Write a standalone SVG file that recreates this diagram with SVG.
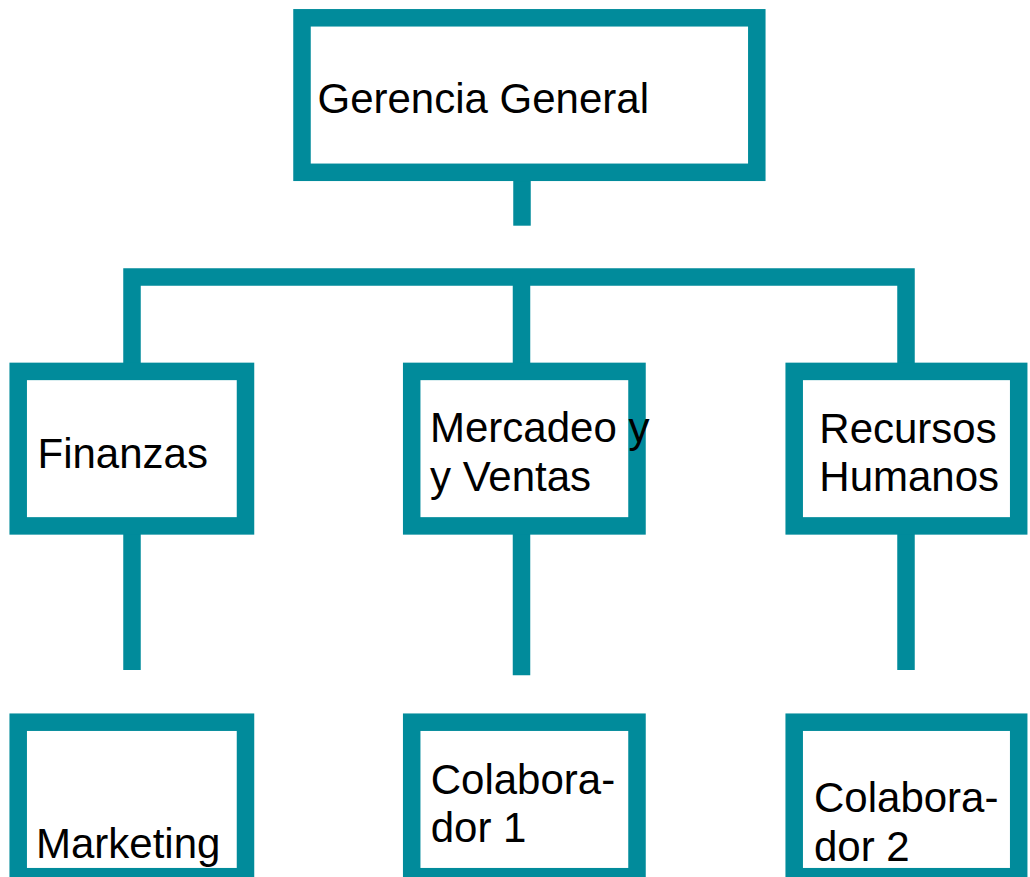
<svg xmlns="http://www.w3.org/2000/svg" width="1030" height="877" viewBox="0 0 1030 877">
  <style>
    .box { fill: #ffffff; stroke: #018B9B; stroke-width: 17.5; }
    .conn { fill: none; stroke: #018B9B; stroke-width: 17.5; stroke-linecap: butt; stroke-linejoin: miter; }
    .lbl { font-family: "Liberation Sans", Arial, Helvetica, sans-serif; font-size: 42px; fill: #000000; }
  </style>
  <rect width="1030" height="877" fill="#ffffff"/>
  <g id="connectors">
    <line class="conn" x1="522" y1="180" x2="522" y2="225.7"/>
    <path class="conn" d="M132 363 V277 H906 V363"/>
    <line class="conn" x1="521.5" y1="277" x2="521.5" y2="363"/>
    <line class="conn" x1="132" y1="534" x2="132" y2="670"/>
    <line class="conn" x1="521.5" y1="534" x2="521.5" y2="675.3"/>
    <line class="conn" x1="906" y1="534" x2="906" y2="670"/>
  </g>
  <g id="gerencia">
    <rect class="box" x="302" y="17.8" width="454.8" height="154.5"/>
    <text class="lbl" x="317.5" y="113">Gerencia General</text>
  </g>
  <g id="finanzas">
    <rect class="box" x="18.2" y="371.4" width="227.3" height="154.5"/>
    <text class="lbl" x="37.5" y="468.3">Finanzas</text>
  </g>
  <g id="mercadeo">
    <rect class="box" x="411.7" y="371.4" width="225.3" height="154.5"/>
    <text class="lbl" x="430" y="442"><tspan x="430">Mercadeo y</tspan><tspan x="430" y="490.5">y Ventas</tspan></text>
  </g>
  <g id="recursos">
    <rect class="box" x="794.2" y="371.4" width="224.5" height="154.5"/>
    <text class="lbl" x="819.3" y="442.7"><tspan x="819.3">Recursos</tspan><tspan x="819.3" y="491">Humanos</tspan></text>
  </g>
  <g id="marketing">
    <rect class="box" x="18.2" y="722.2" width="227.3" height="154.5"/>
    <text class="lbl" x="36" y="858.3">Marketing</text>
  </g>
  <g id="colaborador1">
    <rect class="box" x="411.7" y="722.2" width="225.3" height="154.5"/>
    <text class="lbl" x="430.7" y="794"><tspan x="430.7">Colabora-</tspan><tspan x="430.7" y="842.3">dor 1</tspan></text>
  </g>
  <g id="colaborador2">
    <rect class="box" x="794.2" y="722.2" width="224.5" height="154.5"/>
    <text class="lbl" x="814" y="812.3"><tspan x="814">Colabora-</tspan><tspan x="814" y="860.7">dor 2</tspan></text>
  </g>
</svg>
